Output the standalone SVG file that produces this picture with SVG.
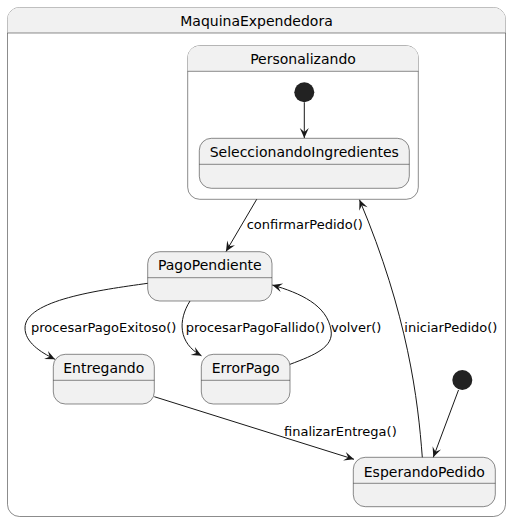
<svg xmlns="http://www.w3.org/2000/svg" width="513" height="522" viewBox="0 0 513 522">
<style>
.box{fill:#F1F1F1;stroke:#181818;stroke-width:0.5}
.sep{stroke:#181818;stroke-width:0.5}
.t{font-family:"DejaVu Sans",sans-serif;font-size:14px;fill:#000;text-anchor:middle}
.l{font-family:"DejaVu Sans",sans-serif;font-size:13px;fill:#000}
.e{fill:none;stroke:#181818;stroke-width:1}
.dot{fill:#222222;stroke:none}
</style>
<defs>
<marker id="a" markerUnits="userSpaceOnUse" markerWidth="12" markerHeight="10" viewBox="-11 -5 12 10" refX="0" refY="0" orient="auto">
<path d="M0,0 L-10,-4.5 L-6,0 L-10,4.5 Z" fill="#181818"/>
</marker>
</defs>
<rect width="513" height="522" fill="#FFFFFF"/>
<g id="MaquinaExpendedora">
<rect class="box" x="7.5" y="7.5" width="498" height="509" rx="12" ry="12" style="fill:#FFFFFF"/>
<path d="M7.5,33 V19.5 A12,12 0 0 1 19.5,7.5 H493.5 A12,12 0 0 1 505.5,19.5 V33 Z" fill="#F1F1F1"/>
<line class="sep" x1="7.5" y1="33" x2="505.5" y2="33"/>
<text class="t" x="256.5" y="25.5">MaquinaExpendedora</text>
</g>
<g id="Personalizando">
<rect class="box" x="187.7" y="45.7" width="230.6" height="153.6" rx="12" ry="12" style="fill:#FFFFFF"/>
<path d="M187.7,71.3 V57.7 A12,12 0 0 1 199.7,45.7 H406.3 A12,12 0 0 1 418.3,57.7 V71.3 Z" fill="#F1F1F1"/>
<line class="sep" x1="187.7" y1="71.3" x2="418.3" y2="71.3"/>
<text class="t" x="303" y="64">Personalizando</text>
</g>
<g id="init1"><circle class="dot" cx="304.3" cy="92.3" r="10"/></g>
<g id="SeleccionandoIngredientes">
<rect class="box" x="199.3" y="138.3" width="210" height="50" rx="12" ry="12"/>
<line class="sep" x1="199.3" y1="164.3" x2="409.3" y2="164.3"/>
<text class="t" x="304.3" y="157">SeleccionandoIngredientes</text>
</g>
<g id="PagoPendiente">
<rect class="box" x="147.7" y="251.7" width="124.3" height="49.3" rx="12" ry="12"/>
<line class="sep" x1="147.7" y1="277.7" x2="272" y2="277.7"/>
<text class="t" x="209.8" y="270">PagoPendiente</text>
</g>
<g id="Entregando">
<rect class="box" x="53.3" y="354.3" width="101" height="49.7" rx="12" ry="12"/>
<line class="sep" x1="53.3" y1="380.3" x2="154.3" y2="380.3"/>
<text class="t" x="103.8" y="373">Entregando</text>
</g>
<g id="ErrorPago">
<rect class="box" x="201.3" y="354.3" width="88.7" height="49.7" rx="12" ry="12"/>
<line class="sep" x1="201.3" y1="380.3" x2="290" y2="380.3"/>
<text class="t" x="245.7" y="373">ErrorPago</text>
</g>
<g id="init2"><circle class="dot" cx="462.3" cy="380" r="10"/></g>
<g id="EsperandoPedido">
<rect class="box" x="353.3" y="457.3" width="142" height="49.4" rx="12" ry="12"/>
<line class="sep" x1="353.3" y1="483.3" x2="495.3" y2="483.3"/>
<text class="t" x="424.3" y="476.5">EsperandoPedido</text>
</g>
<g id="connectors">
<path class="e" marker-end="url(#a)" d="M304.3,102.3 V138"/>
<path class="e" marker-end="url(#a)" d="M256.7,199.3 L226,251.5"/>
<text class="l" x="246.7" y="229">confirmarPedido()</text>
<path class="e" marker-end="url(#a)" d="M422.3,457.3 C418,400 408,315 359.5,199.8"/>
<text class="l" x="404.3" y="332">iniciarPedido()</text>
<path class="e" marker-end="url(#a)" d="M147.7,283.3 C100,290 25,300 25,328 C25,342 40,352 55,359.3"/>
<text class="l" x="31" y="332">procesarPagoExitoso()</text>
<path class="e" marker-end="url(#a)" d="M190,301 C178,320 178,343 201.5,355.8"/>
<text class="l" x="185.7" y="332">procesarPagoFallido()</text>
<path class="e" marker-end="url(#a)" d="M290,364.3 C315,355 334,347 331,330 C327,305 300,293 272.3,285"/>
<text class="l" x="331" y="332">volver()</text>
<path class="e" marker-end="url(#a)" d="M154.3,396.7 L354,459.3"/>
<text class="l" x="284" y="435.5">finalizarEntrega()</text>
<path class="e" marker-end="url(#a)" d="M458.5,390 L433.3,457.3"/>
</g>
</svg>
